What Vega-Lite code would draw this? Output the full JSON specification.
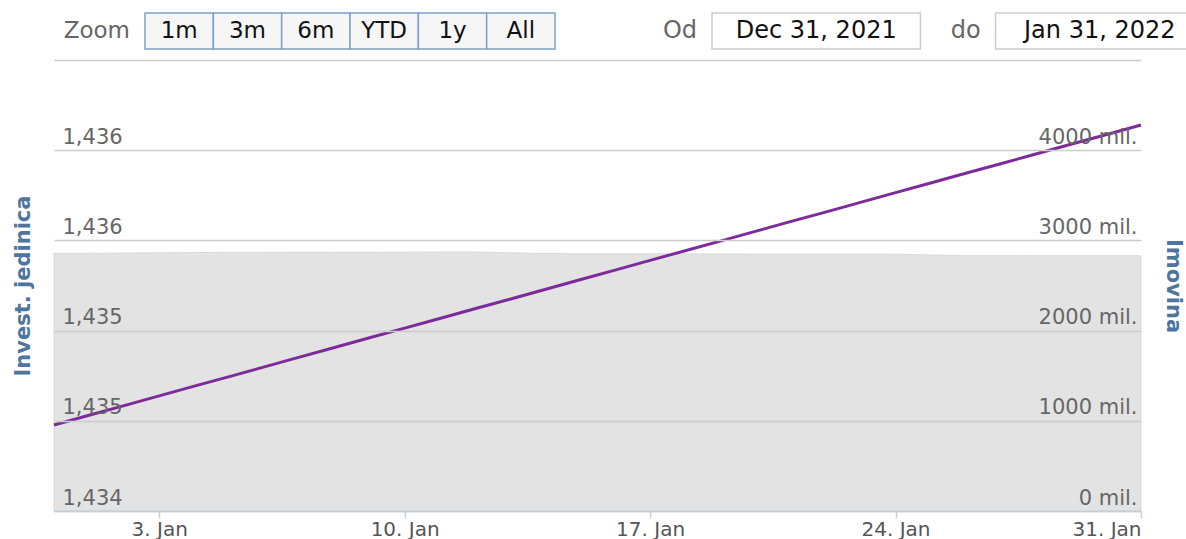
{
  "$schema": "https://vega.github.io/schema/vega-lite/v6.json",
  "padding": {"left": 12, "top": 12, "right": 0, "bottom": 0},
  "background": "white",
  "spacing": 10,
  "config": {
    "view": {"stroke": null},
    "font": "DejaVu Sans"
  },
  "datasets": {
    "buttons": [
      {"label": "1m"}, {"label": "3m"}, {"label": "6m"}, {"label": "YTD"}, {"label": "1y"}, {"label": "All"}
    ],
    "zoomlabel": [{"label": "Zoom", "anchor": "1m"}],
    "dates": [
      {"label": "Od", "value": "Dec 31, 2021"},
      {"label": "do", "value": "Jan 31, 2022"}
    ],
    "series": [
      {"date": "2021-12-31", "price": 1.434477, "assets": 2857},
      {"date": "2022-01-01", "price": 1.434531, "assets": 2857},
      {"date": "2022-01-02", "price": 1.434584, "assets": 2859},
      {"date": "2022-01-03", "price": 1.434638, "assets": 2862},
      {"date": "2022-01-04", "price": 1.434692, "assets": 2865},
      {"date": "2022-01-05", "price": 1.434745, "assets": 2867},
      {"date": "2022-01-06", "price": 1.434799, "assets": 2867},
      {"date": "2022-01-07", "price": 1.434853, "assets": 2868},
      {"date": "2022-01-08", "price": 1.434906, "assets": 2868},
      {"date": "2022-01-09", "price": 1.434960, "assets": 2868},
      {"date": "2022-01-10", "price": 1.435014, "assets": 2870},
      {"date": "2022-01-11", "price": 1.435067, "assets": 2872},
      {"date": "2022-01-12", "price": 1.435121, "assets": 2872},
      {"date": "2022-01-13", "price": 1.435174, "assets": 2862},
      {"date": "2022-01-14", "price": 1.435228, "assets": 2855},
      {"date": "2022-01-15", "price": 1.435282, "assets": 2852},
      {"date": "2022-01-16", "price": 1.435335, "assets": 2852},
      {"date": "2022-01-17", "price": 1.435389, "assets": 2851},
      {"date": "2022-01-18", "price": 1.435443, "assets": 2850},
      {"date": "2022-01-19", "price": 1.435496, "assets": 2849},
      {"date": "2022-01-20", "price": 1.435550, "assets": 2848},
      {"date": "2022-01-21", "price": 1.435604, "assets": 2848},
      {"date": "2022-01-22", "price": 1.435657, "assets": 2848},
      {"date": "2022-01-23", "price": 1.435711, "assets": 2848},
      {"date": "2022-01-24", "price": 1.435765, "assets": 2847},
      {"date": "2022-01-25", "price": 1.435818, "assets": 2838},
      {"date": "2022-01-26", "price": 1.435872, "assets": 2831},
      {"date": "2022-01-27", "price": 1.435925, "assets": 2830},
      {"date": "2022-01-28", "price": 1.435979, "assets": 2829},
      {"date": "2022-01-29", "price": 1.436033, "assets": 2829},
      {"date": "2022-01-30", "price": 1.436086, "assets": 2829},
      {"date": "2022-01-31", "price": 1.436140, "assets": 2829}
    ]
  },
  "vconcat": [
    {
      "width": 1132,
      "height": 36,
      "layer": [
        {
          "layer": [
            {
              "data": {"name": "buttons"},
              "mark": {"type": "rect", "fill": "#f6f6f6", "stroke": "#7ea1c9", "strokeWidth": 1.5},
              "encoding": {
                "x": {"field": "label", "type": "nominal", "sort": null, "axis": null,
                      "scale": {"domain": ["1m", "3m", "6m", "YTD", "1y", "All"], "range": [91, 501], "paddingInner": 0, "paddingOuter": 0}}
              }
            },
            {
              "data": {"name": "buttons"},
              "mark": {"type": "text", "fontSize": 23, "color": "#111111", "baseline": "middle"},
              "encoding": {
                "x": {"field": "label", "type": "nominal", "sort": null, "axis": null},
                "text": {"field": "label"}
              }
            },
            {
              "data": {"name": "zoomlabel"},
              "mark": {"type": "text", "fontSize": 23, "color": "#666666", "align": "right", "baseline": "middle", "dx": -15},
              "encoding": {
                "x": {"field": "anchor", "type": "nominal", "axis": null, "bandPosition": 0},
                "text": {"field": "label"}
              }
            }
          ]
        },
        {
          "layer": [
            {
              "data": {"name": "dates"},
              "mark": {"type": "rect", "fill": "#ffffff", "stroke": "#cccccc", "strokeWidth": 1.5},
              "encoding": {
                "x": {"field": "value", "type": "nominal", "sort": null, "axis": null,
                      "scale": {"domain": ["Dec 31, 2021", "Jan 31, 2022"], "range": [658, 1150], "paddingInner": 0.265, "paddingOuter": 0}}
              }
            },
            {
              "data": {"name": "dates"},
              "mark": {"type": "text", "fontSize": 24, "color": "#111111", "baseline": "middle"},
              "encoding": {
                "x": {"field": "value", "type": "nominal", "sort": null, "axis": null},
                "text": {"field": "value"}
              }
            },
            {
              "data": {"name": "dates"},
              "mark": {"type": "text", "fontSize": 24, "color": "#666666", "align": "right", "baseline": "middle", "dx": -15},
              "encoding": {
                "x": {"field": "value", "type": "nominal", "sort": null, "axis": null, "bandPosition": 0},
                "text": {"field": "label"}
              }
            }
          ]
        }
      ],
      "resolve": {"scale": {"x": "independent"}}
    },
    {
      "width": 1087,
      "height": 451,
      "data": {"name": "series"},
      "layer": [
        {
          "mark": {"type": "area", "color": "#e3e3e3", "opacity": 1, "stroke": "#d9d9d9", "strokeWidth": 1},
          "encoding": {
            "x": {
              "field": "date", "type": "temporal",
              "scale": {"type": "utc", "domain": [{"year": 2021, "month": 12, "date": 31, "utc": true}, {"year": 2022, "month": 1, "date": 31, "utc": true}]},
              "axis": {
                "title": null, "zindex": 1, "grid": false,
                "values": [
                  {"year": 2022, "month": 1, "date": 3, "utc": true},
                  {"year": 2022, "month": 1, "date": 10, "utc": true},
                  {"year": 2022, "month": 1, "date": 17, "utc": true},
                  {"year": 2022, "month": 1, "date": 24, "utc": true},
                  {"year": 2022, "month": 1, "date": 31, "utc": true}
                ],
                "labelExpr": "utcFormat(datum.value, '%-d. %b')",
                "domainColor": "#c0d0e0", "domainWidth": 1.5,
                "tickColor": "#c0d0e0", "tickSize": 7, "tickWidth": 1.5,
                "labelFontSize": 20, "labelColor": "#555555", "labelPadding": 1,
                "labelFlush": true
              }
            },
            "y": {
              "field": "assets", "type": "quantitative",
              "scale": {"domain": [0, 5000], "nice": false, "zero": true},
              "axis": {
                "orient": "right", "title": "Imovina", "zindex": 1,
                "values": [0, 1000, 2000, 3000, 4000, 5000],
                "labelExpr": "datum.value > 4500 ? '' : format(datum.value, 'd') + ' mil.'",
                "grid": false, "domain": false, "ticks": false,
                "labelAlign": "right", "labelBaseline": "bottom", "labelPadding": -4, "labelOffset": -3,
                "labelFlush": false, "labelFontSize": 21, "labelColor": "#666666",
                "titleColor": "#4d759e", "titleFontSize": 21, "titleFontWeight": "bold", "titlePadding": 21
              }
            }
          }
        },
        {
          "mark": {"type": "line", "color": "#7d2a9a", "strokeWidth": 3},
          "encoding": {
            "x": {"field": "date", "type": "temporal"},
            "y": {
              "field": "price", "type": "quantitative",
              "scale": {"domain": [1.434, 1.4365], "nice": false, "zero": false},
              "axis": {
                "orient": "left", "title": "Invest. jedinica", "zindex": 1,
                "values": [1.434, 1.4345, 1.435, 1.4355, 1.436, 1.4365],
                "labelExpr": "datum.value > 1.4362 ? '' : replace(format(round(datum.value*1000+0.001)/1000, '.3f'), '.', ',')",
                "grid": true, "gridColor": "#cccccc", "gridWidth": 1.5,
                "domain": false, "ticks": false,
                "labelAlign": "left", "labelBaseline": "bottom", "labelPadding": -8, "labelOffset": -3,
                "labelFlush": false, "labelFontSize": 21, "labelColor": "#666666",
                "titleColor": "#4d759e", "titleFontSize": 21, "titleFontWeight": "bold", "titlePadding": 21
              }
            }
          }
        }
      ],
      "resolve": {"scale": {"y": "independent"}}
    }
  ]
}
